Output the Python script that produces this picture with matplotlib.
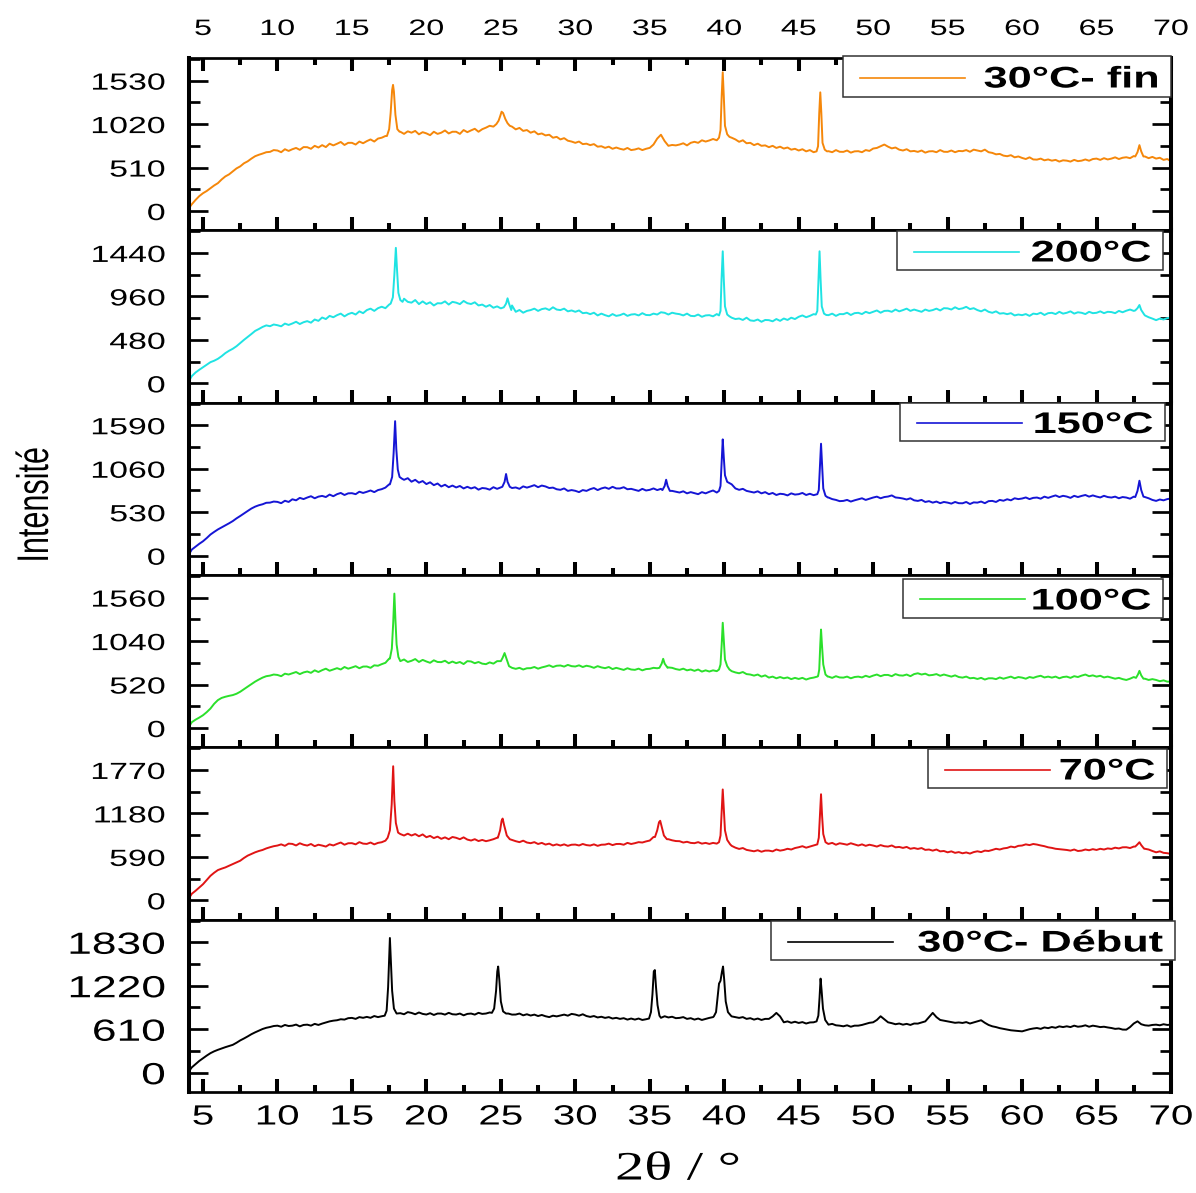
import numpy as np
import matplotlib
matplotlib.use("Agg")
import matplotlib.pyplot as plt
from matplotlib.patheffects import AbstractPathEffect
from matplotlib.transforms import Affine2D
from matplotlib.patches import Rectangle
from matplotlib.lines import Line2D
from matplotlib.ticker import MultipleLocator, FixedLocator

plt.rcParams['font.family'] = ['Liberation Sans', 'DejaVu Sans']

W, H, DPI = 1196, 1193, 100

# sampling positions of the digitised patterns (2theta, degrees)
grid_x = np.arange(4.0, 70.0001, 0.25)

labels = ["30°C- fin", "200°C", "150°C", "100°C", "70°C", "30°C- Début"]
colors = ["#F5870A", "#1FE3E3", "#1515D5", "#2BE02B", "#E01414", "#000000"]
tick_steps = [510, 480, 530, 520, 590, 610]

y_fin = [
    20, 80, 130, 175, 209, 235, 268, 300, 327, 370, 406, 430, 465, 500, 524, 560,
    583, 615, 643, 660, 674, 690, 694, 715, 710, 690, 725, 705, 725, 740, 718, 750,
    749, 730, 765, 745, 773, 750, 790, 770, 789, 810, 775, 800, 800, 780, 815, 795,
    820, 840, 815, 850, 860, 880, 960, 1400, 1000, 930, 905, 935, 919, 940, 900, 925,
    911, 890, 930, 905, 919, 945, 910, 930, 930, 905, 950, 925, 946, 965, 930, 960,
    978, 1000, 990, 1030, 1150, 1080, 1030, 990, 958, 975, 940, 950, 919, 935, 900, 910,
    887, 895, 860, 870, 840, 855, 825, 815, 800, 815, 785, 790, 773, 785, 755, 760,
    741, 755, 730, 745, 730, 720, 740, 715, 722, 735, 715, 730, 741, 780, 850, 895,
    820, 765, 775, 770, 780, 795, 770, 800, 812, 800, 830, 815, 828, 845, 830, 860,
    1000, 880, 860, 840, 812, 830, 795, 800, 773, 790, 765, 770, 749, 765, 740, 755,
    733, 745, 720, 730, 710, 725, 700, 715, 690, 705, 1392, 720, 702, 690, 715, 695,
    694, 710, 685, 700, 702, 690, 715, 705, 733, 740, 760, 780, 755, 735, 745, 720,
    710, 725, 700, 705, 694, 710, 685, 700, 702, 690, 715, 695, 694, 710, 690, 705,
    702, 715, 695, 720, 710, 700, 720, 690, 682, 665, 670, 650, 643, 655, 630, 640,
    623, 610, 630, 605, 603, 615, 595, 605, 591, 600, 580, 595, 591, 580, 600, 585,
    591, 605, 590, 610, 615, 600, 620, 605, 615, 630, 610, 625, 631, 620, 645, 700,
    700, 640, 620, 635, 615, 625, 600, 610, 584]
pk_fin = [
    [(17.35, 880), (17.5, 960), (17.6, 1150), (17.7, 1420), (17.76, 1480), (17.82, 1400), (17.92, 1130), (18.05, 960), (18.2, 930)],
    [(24.7, 1020), (24.85, 1060), (24.95, 1110), (25.05, 1165), (25.15, 1150), (25.3, 1080), (25.45, 1030), (25.6, 1000)],
    [(39.65, 860), (39.75, 950), (39.83, 1350), (39.9, 1628), (39.97, 1350), (40.05, 1000), (40.2, 900), (40.35, 870)],
    [(46.2, 700), (46.3, 760), (46.38, 1150), (46.45, 1392), (46.52, 1150), (46.6, 800), (46.75, 720), (46.9, 700)],
    [(67.6, 640), (67.75, 690), (67.88, 773), (68.0, 700), (68.15, 640)]]

y_200 = [
    10, 80, 120, 150, 178, 205, 234, 250, 271, 300, 334, 360, 382, 410, 445, 480,
    512, 545, 579, 600, 623, 640, 631, 650, 642, 630, 660, 645, 661, 680, 655, 675,
    687, 670, 705, 690, 727, 710, 745, 730, 753, 770, 740, 765, 779, 760, 795, 775,
    809, 825, 800, 830, 846, 830, 870, 880, 1250, 920, 935, 900, 891, 920, 875, 905,
    876, 895, 860, 885, 883, 905, 870, 900, 891, 875, 910, 885, 876, 895, 860, 870,
    846, 865, 835, 850, 828, 860, 939, 860, 790, 810, 780, 800, 809, 825, 800, 820,
    828, 810, 840, 815, 809, 825, 795, 805, 790, 805, 775, 780, 764, 780, 750, 770,
    753, 740, 765, 745, 753, 770, 745, 760, 764, 750, 775, 755, 753, 770, 760, 785,
    779, 760, 780, 770, 764, 750, 770, 745, 742, 760, 735, 750, 753, 740, 765, 750,
    900, 740, 725, 710, 716, 700, 725, 695, 690, 705, 680, 700, 698, 685, 710, 690,
    716, 700, 725, 710, 735, 750, 730, 745, 764, 780, 1000, 770, 753, 770, 745, 765,
    764, 780, 755, 775, 779, 765, 790, 775, 790, 805, 780, 800, 802, 790, 815, 795,
    809, 825, 800, 815, 802, 790, 815, 800, 809, 825, 805, 830, 828, 815, 840, 820,
    828, 845, 820, 830, 809, 795, 815, 790, 779, 795, 770, 775, 764, 775, 750, 760,
    753, 765, 745, 770, 764, 780, 755, 775, 779, 765, 790, 770, 779, 795, 770, 785,
    779, 765, 790, 775, 779, 795, 775, 790, 787, 775, 800, 785, 802, 815, 800, 865,
    810, 750, 730, 715, 698, 715, 705, 720, 727]
pk_200 = [
    [(17.6, 880), (17.75, 950), (17.85, 1200), (17.95, 1496), (18.03, 1250), (18.12, 1000), (18.25, 920), (18.4, 900)],
    [(25.2, 840), (25.35, 880), (25.45, 939), (25.55, 880), (25.7, 810)],
    [(39.65, 750), (39.75, 800), (39.82, 1150), (39.9, 1458), (39.97, 1150), (40.05, 850), (40.2, 760), (40.35, 740)],
    [(46.15, 760), (46.25, 800), (46.33, 1150), (46.4, 1458), (46.47, 1150), (46.55, 850), (46.7, 770), (46.85, 755)],
    [(67.6, 805), (67.75, 830), (67.88, 865), (68.0, 810), (68.2, 760)]]

y_150 = [
    0, 75, 110, 145, 176, 215, 258, 290, 320, 345, 369, 395, 422, 455, 484, 515,
    545, 575, 598, 615, 627, 645, 647, 660, 656, 640, 670, 655, 688, 675, 705, 690,
    709, 725, 700, 720, 729, 715, 745, 725, 750, 765, 740, 760, 762, 750, 780, 765,
    779, 795, 775, 800, 811, 830, 870, 1640, 1100, 950, 925, 945, 902, 925, 890, 910,
    873, 895, 860, 880, 844, 865, 835, 855, 832, 850, 820, 840, 820, 835, 805, 825,
    820, 805, 835, 815, 832, 900, 850, 825, 832, 815, 845, 830, 844, 860, 835, 855,
    844, 825, 830, 810, 803, 820, 790, 800, 791, 775, 800, 790, 811, 825, 800, 820,
    832, 815, 840, 820, 820, 835, 810, 815, 803, 790, 815, 795, 803, 820, 800, 815,
    850, 800, 790, 780, 770, 785, 760, 775, 762, 750, 775, 760, 779, 795, 770, 790,
    1100, 950, 870, 820, 803, 815, 790, 780, 770, 785, 760, 775, 750, 765, 740, 755,
    750, 735, 760, 745, 750, 765, 740, 755, 738, 750, 1365, 800, 709, 690, 680, 665,
    668, 680, 660, 675, 688, 700, 680, 695, 709, 720, 700, 715, 721, 735, 710, 705,
    697, 685, 700, 675, 668, 680, 655, 665, 647, 660, 640, 655, 647, 635, 655, 640,
    639, 655, 630, 650, 647, 660, 640, 665, 668, 655, 680, 670, 688, 675, 700, 690,
    697, 710, 690, 705, 709, 695, 720, 705, 721, 735, 715, 730, 721, 705, 730, 715,
    729, 740, 720, 735, 721, 710, 730, 715, 709, 720, 700, 715, 709, 695, 720, 914,
    800, 715, 700, 680, 668, 685, 675, 690, 697]
pk_150 = [
    [(17.55, 870), (17.7, 960), (17.8, 1250), (17.9, 1640), (17.98, 1300), (18.08, 1050), (18.2, 960), (18.35, 940)],
    [(25.1, 840), (25.25, 900), (25.35, 996), (25.45, 900), (25.6, 840)],
    [(35.85, 800), (36.0, 850), (36.1, 926), (36.2, 850), (36.35, 790)],
    [(39.65, 790), (39.75, 850), (39.83, 1150), (39.9, 1418), (39.97, 1200), (40.05, 980), (40.2, 900), (40.4, 880)],
    [(46.25, 750), (46.35, 800), (46.43, 1100), (46.5, 1365), (46.57, 1100), (46.65, 820), (46.8, 730), (46.95, 710)],
    [(67.6, 715), (67.75, 790), (67.88, 914), (68.0, 800), (68.15, 720)]]

y_100 = [
    0, 70, 100, 125, 153, 190, 233, 290, 334, 360, 374, 385, 394, 410, 434, 465,
    495, 525, 555, 580, 603, 620, 627, 640, 635, 620, 650, 640, 655, 670, 645, 665,
    676, 660, 690, 670, 692, 710, 685, 700, 716, 700, 730, 710, 724, 740, 715, 735,
    736, 720, 750, 745, 764, 780, 830, 1608, 1000, 800, 820, 790, 804, 825, 790, 815,
    796, 780, 810, 790, 788, 805, 775, 795, 776, 790, 765, 800, 796, 775, 790, 770,
    764, 785, 770, 800, 800, 897, 740, 720, 708, 720, 700, 715, 716, 730, 710, 725,
    736, 750, 730, 745, 748, 735, 755, 740, 736, 750, 730, 745, 736, 720, 740, 725,
    716, 730, 705, 720, 708, 695, 715, 700, 696, 710, 690, 705, 708, 720, 715, 770,
    770, 725, 720, 705, 696, 710, 690, 700, 684, 700, 675, 690, 676, 690, 680, 700,
    820, 740, 680, 665, 655, 670, 645, 640, 627, 640, 615, 630, 603, 615, 595, 610,
    595, 605, 585, 600, 587, 600, 580, 595, 603, 615, 1178, 640, 615, 600, 620, 605,
    603, 615, 595, 610, 615, 605, 625, 610, 627, 640, 620, 635, 635, 620, 645, 630,
    627, 640, 620, 645, 655, 640, 650, 630, 635, 645, 625, 640, 627, 615, 630, 610,
    603, 615, 595, 600, 587, 600, 580, 595, 595, 585, 605, 590, 603, 615, 595, 610,
    603, 590, 610, 600, 615, 625, 605, 615, 603, 615, 595, 610, 615, 600, 620, 610,
    627, 640, 620, 630, 615, 625, 605, 615, 603, 590, 600, 585, 575, 590, 610, 640,
    630, 590, 575, 585, 575, 560, 570, 555, 555]
pk_100 = [
    [(17.55, 830), (17.68, 950), (17.77, 1250), (17.85, 1608), (17.92, 1300), (18.0, 1000), (18.12, 850), (18.25, 800)],
    [(25.0, 800), (25.12, 840), (25.25, 897), (25.38, 830), (25.55, 740)],
    [(35.65, 720), (35.8, 770), (35.9, 828), (36.0, 770), (36.2, 720)],
    [(39.65, 700), (39.75, 760), (39.83, 1000), (39.9, 1259), (39.97, 1050), (40.05, 820), (40.2, 740), (40.35, 700)],
    [(46.3, 620), (46.38, 700), (46.45, 1000), (46.5, 1178), (46.56, 1000), (46.65, 760), (46.8, 640), (46.95, 615)],
    [(67.65, 600), (67.78, 640), (67.88, 684), (68.0, 630), (68.15, 590)]]

y_70 = [
    10, 90, 130, 175, 219, 275, 333, 375, 411, 430, 447, 470, 493, 515, 538, 575,
    607, 630, 652, 670, 684, 705, 721, 735, 744, 760, 740, 770, 766, 745, 775, 755,
    744, 765, 735, 755, 744, 730, 760, 745, 766, 785, 755, 775, 776, 760, 790, 770,
    766, 785, 760, 780, 789, 810, 1300, 1350, 1050, 900, 880, 905, 880, 900, 870, 895,
    857, 875, 845, 865, 835, 855, 830, 860, 849, 830, 855, 825, 812, 830, 805, 820,
    803, 815, 830, 850, 1050, 1000, 850, 820, 803, 790, 810, 785, 776, 790, 765, 780,
    757, 770, 745, 760, 744, 760, 740, 755, 757, 745, 765, 750, 744, 760, 740, 755,
    757, 770, 750, 765, 766, 755, 780, 765, 776, 790, 785, 800, 812, 860, 950, 1050,
    880, 830, 815, 805, 803, 785, 795, 780, 776, 790, 770, 780, 766, 780, 770, 790,
    950, 820, 740, 715, 698, 710, 685, 675, 666, 680, 660, 675, 675, 665, 690, 675,
    684, 700, 690, 710, 721, 735, 715, 730, 744, 755, 1440, 790, 766, 780, 755, 775,
    766, 755, 775, 760, 744, 760, 740, 755, 744, 730, 750, 735, 730, 745, 720, 725,
    712, 725, 700, 710, 698, 710, 685, 690, 675, 690, 665, 670, 652, 665, 645, 655,
    639, 650, 635, 655, 666, 655, 675, 670, 684, 700, 690, 705, 712, 730, 720, 740,
    744, 760, 750, 765, 757, 745, 735, 720, 712, 700, 695, 690, 684, 675, 690, 670,
    675, 690, 680, 695, 684, 700, 690, 705, 698, 715, 705, 720, 721, 710, 730, 760,
    750, 700, 690, 670, 652, 665, 645, 640, 630]
pk_70 = [
    [(17.4, 850), (17.55, 950), (17.67, 1300), (17.77, 1820), (17.85, 1350), (17.95, 1050), (18.1, 920), (18.25, 900)],
    [(24.8, 850), (24.95, 950), (25.05, 1080), (25.12, 1110), (25.22, 1020), (25.4, 880), (25.6, 830)],
    [(35.35, 860), (35.5, 950), (35.62, 1060), (35.7, 1080), (35.8, 1000), (35.95, 880), (36.15, 830)],
    [(39.65, 790), (39.75, 880), (39.83, 1200), (39.9, 1505), (39.97, 1250), (40.05, 950), (40.2, 820), (40.4, 760)],
    [(46.25, 760), (46.35, 850), (46.43, 1150), (46.5, 1440), (46.57, 1150), (46.65, 900), (46.8, 790), (46.95, 770)],
    [(67.6, 730), (67.75, 760), (67.88, 789), (68.0, 750), (68.2, 700)]]

y_debut = [
    5, 75, 120, 165, 203, 240, 274, 300, 321, 340, 358, 375, 391, 420, 453, 480,
    509, 540, 566, 590, 613, 630, 641, 655, 660, 645, 670, 655, 660, 675, 650, 670,
    674, 660, 685, 670, 689, 705, 720, 730, 736, 750, 745, 765, 769, 755, 780, 770,
    783, 770, 795, 780, 792, 810, 1600, 1150, 830, 835, 820, 850, 839, 820, 845, 825,
    816, 835, 810, 830, 830, 815, 840, 820, 816, 830, 805, 825, 830, 815, 840, 825,
    830, 845, 900, 1400, 1000, 850, 830, 815, 816, 830, 805, 820, 802, 815, 795, 810,
    792, 780, 800, 790, 802, 815, 800, 825, 816, 800, 820, 795, 783, 795, 775, 785,
    769, 780, 760, 770, 755, 765, 745, 760, 745, 760, 740, 750, 760, 1420, 950, 770,
    792, 775, 785, 765, 769, 780, 755, 765, 745, 760, 740, 755, 769, 780, 1050, 1290,
    1300, 850, 790, 780, 769, 780, 755, 765, 745, 760, 740, 755, 755, 790, 839, 790,
    707, 720, 700, 715, 698, 710, 690, 705, 707, 720, 1200, 800, 674, 685, 665, 660,
    651, 665, 645, 660, 660, 670, 685, 700, 707, 740, 792, 750, 707, 695, 680, 690,
    674, 685, 670, 690, 689, 705, 720, 780, 839, 780, 740, 730, 721, 710, 700, 705,
    698, 710, 690, 705, 720, 736, 700, 670, 651, 640, 625, 615, 604, 595, 590, 585,
    580, 595, 610, 620, 627, 615, 635, 625, 641, 630, 650, 640, 651, 640, 660, 645,
    651, 665, 645, 660, 651, 640, 645, 635, 627, 615, 620, 605, 604, 640, 690, 721,
    680, 665, 660, 670, 674, 665, 680, 670, 674]
pk_debut = [
    [(17.2, 800), (17.33, 870), (17.43, 1200), (17.5, 1600), (17.55, 1890), (17.62, 1550), (17.7, 1150), (17.82, 900), (18.0, 830)],
    [(24.4, 840), (24.55, 900), (24.68, 1150), (24.76, 1420), (24.82, 1490), (24.9, 1300), (25.0, 1000), (25.15, 860), (25.35, 830)],
    [(34.95, 760), (35.08, 850), (35.18, 1100), (35.27, 1420), (35.34, 1440), (35.42, 1200), (35.52, 950), (35.65, 800)],
    [(39.3, 790), (39.45, 850), (39.55, 1050), (39.65, 1250), (39.75, 1290), (39.85, 1420), (39.92, 1490), (40.0, 1300), (40.1, 1000), (40.25, 850), (40.45, 800)],
    [(46.2, 720), (46.32, 800), (46.4, 1050), (46.47, 1320), (46.54, 1150), (46.63, 900), (46.78, 740), (46.95, 690)]]

series_y = [y_fin, y_200, y_150, y_100, y_70, y_debut]
series_pk = [pk_fin, pk_200, pk_150, pk_100, pk_70, pk_debut]

# legend boxes in pixel coordinates (x0, y0, x1, y1)
legend_boxes = [(843, 56, 1171, 97), (897, 231, 1163, 270), (900, 403, 1165, 441),
                (903, 579, 1163, 618), (928, 749, 1167, 788), (771, 921, 1175, 960)]

SX = 1.45  # horizontal text stretch seen in the reference


class StretchX(AbstractPathEffect):
    def __init__(self, sx=SX, anchor='center'):
        super().__init__()
        self._sx = sx
        self._anchor = anchor

    def draw_path(self, renderer, gc, tpath, affine, rgbFace=None):
        ext = tpath.get_extents(affine)
        if self._anchor == 'right':
            a = ext.x1
        elif self._anchor == 'left':
            a = ext.x0
        else:
            a = 0.5 * (ext.x0 + ext.x1)
        st = Affine2D().translate(-a, 0).scale(self._sx, 1).translate(a, 0)
        renderer.draw_path(gc, tpath, affine + st, rgbFace)


def assemble(gy, peaks):
    pts = list(zip(grid_x.tolist(), gy))
    for pk in peaks:
        lo, hi = pk[0][0], pk[-1][0]
        pts = [p for p in pts if not (lo <= p[0] <= hi)]
        pts += pk
    pts.sort()
    arr = np.array(pts, dtype=float)
    return arr[:, 0], arr[:, 1]


def fx(px):
    return px / W


def fy(py):
    return 1 - py / H


fig = plt.figure(figsize=(W / DPI, H / DPI), dpi=DPI)
left_px, right_px, top_px, bot_px = 189, 1171, 58, 1092
ph = (bot_px - top_px) / 6.0
xticks = list(range(5, 71, 5))

for i in range(6):
    assert len(series_y[i]) == len(grid_x)
    ax = fig.add_axes([fx(left_px), fy(top_px + (i + 1) * ph),
                       fx(right_px) - fx(left_px), ph / H])
    x, y = assemble(series_y[i], series_pk[i])
    ax.plot(x, y, color=colors[i], lw=1.4)
    a = tick_steps[i]
    T = 3 * a
    ax.set_xlim(4.06, 70)
    ax.set_ylim(-0.148 * T, 1.1733 * T)
    ax.xaxis.set_major_locator(FixedLocator(xticks))
    ax.xaxis.set_minor_locator(MultipleLocator(2.5))
    ax.yaxis.set_major_locator(FixedLocator([0, a, 2 * a, 3 * a]))
    ax.yaxis.set_minor_locator(MultipleLocator(a / 2))
    for side in ['left', 'right']:
        ax.spines[side].set_linewidth(2.9)
    for side in ['top', 'bottom']:
        ax.spines[side].set_linewidth(1.95)
    ylab_size = 22 if i == 5 else 16.8
    ax.tick_params(axis='x', which='major', direction='in', length=9.4, width=2.9,
                   top=(i == 0), bottom=True, labelbottom=(i == 5), labeltop=(i == 0))
    ax.tick_params(axis='x', which='minor', direction='in', length=5, width=2.9,
                   top=(i == 0), bottom=True)
    ax.tick_params(axis='y', which='major', direction='in', length=13.7, width=1.95,
                   left=True, right=True, labelsize=ylab_size, pad=17)
    ax.tick_params(axis='y', which='minor', direction='in', length=8, width=1.95,
                   left=True, right=True)
    if i == 0:
        ax.tick_params(axis='x', which='major', labelsize=16, pad=13)
    if i == 5:
        ax.tick_params(axis='x', which='major', labelsize=20, pad=9)
    for t in ax.xaxis.get_major_ticks():
        t.label1.set_path_effects([StretchX(SX, 'center')])
        t.label2.set_path_effects([StretchX(SX, 'center')])
    for t in ax.yaxis.get_major_ticks():
        t.label1.set_path_effects([StretchX(SX, 'right')])

    # legend box
    x0, y0, x1, y1 = legend_boxes[i]
    fig.add_artist(Rectangle((fx(x0), fy(y1)), fx(x1) - fx(x0), fy(y0) - fy(y1),
                             transform=fig.transFigure, facecolor='white',
                             edgecolor='#333333', lw=1.1, zorder=10))
    ym = 0.5 * (y0 + y1)
    fig.add_artist(Line2D([fx(x0 + 17), fx(x0 + 122)], [fy(ym + 1), fy(ym + 1)],
                          transform=fig.transFigure, color=colors[i], lw=1.2, zorder=11))
    fig.text(fx(x1 - 12), fy(ym + 11), labels[i], ha='right', va='baseline',
             fontsize=21.5, fontweight='bold', zorder=12,
             path_effects=[StretchX(SX, 'right')])

fig.text(fx(35), fy(505), "Intensité", rotation=90, ha='center', va='center',
         fontsize=22, path_effects=[StretchX(SX, 'center')])
fig.text(fx(678), fy(1170), "2θ / °", ha='center', va='center',
         fontsize=29, family=['Liberation Serif', 'DejaVu Serif'],
         path_effects=[StretchX(SX, 'center')])

fig.savefig("out.png", dpi=DPI)
